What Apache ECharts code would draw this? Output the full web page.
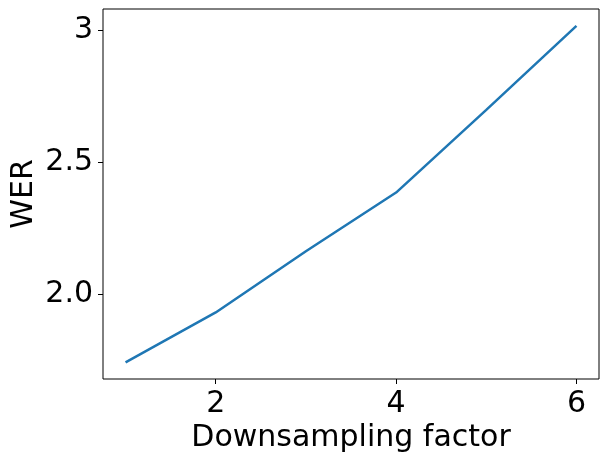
<!DOCTYPE html>
<html>
<head>
<meta charset="utf-8">
<title>WER vs downsampling factor</title>
<script src="https://cdn.jsdelivr.net/npm/echarts@6/dist/echarts.min.js"></script>
<style>
    html, body { margin: 0; padding: 0; background: #fff; }
    #chart { width: 608px; height: 462px; }
</style>
</head>
<body>
<div id="chart"></div>
<script>
// data
var factors = [1, 2, 3, 4, 5, 6];
var werValues = [1.741, 1.930, 2.162, 2.384, 2.697, 3.015];
var xTicks = [2, 4, 6];
var yTicks = [2.0, 2.5, 3];

var myChart = echarts.init(document.getElementById('chart'));
var font = 'DejaVu Sans';

var option = {
    animation: false,
    grid: {
        left: 103,
        right: 9,
        top: 9,
        bottom: 83,
        outerBoundsMode: 'none',
        containLabel: false,
        show: true,
        borderColor: '#000',
        borderWidth: 1,
        backgroundColor: 'transparent'
    },
    xAxis: {
        type: 'value',
        min: 0.75,
        max: 6.25,
        name: 'Downsampling factor',
        nameLocation: 'middle',
        nameGap: 44,
        nameMoveOverlap: false,
        nameTextStyle: { fontFamily: font, fontSize: 30, color: '#000' },
        axisLine: { show: false },
        axisTick: { show: true, customValues: xTicks, length: 5, lineStyle: { color: '#000' } },
        axisLabel: { customValues: xTicks, fontFamily: font, fontSize: 30, color: '#000', margin: 10 },
        splitLine: { show: false }
    },
    yAxis: {
        type: 'value',
        min: 1.678,
        max: 3.079,
        name: 'WER',
        nameLocation: 'middle',
        nameGap: 64,
        nameMoveOverlap: false,
        nameTextStyle: { fontFamily: font, fontSize: 30, color: '#000' },
        axisLine: { show: false },
        axisTick: { show: true, customValues: yTicks, length: 5, lineStyle: { color: '#000' } },
        axisLabel: {
            customValues: yTicks,
            fontFamily: font,
            fontSize: 30,
            color: '#000',
            margin: 10,
            formatter: function (v) {
                return v === 3 ? '3' : v.toFixed(1);
            }
        },
        splitLine: { show: false }
    },
    series: [
        {
            type: 'line',
            data: factors.map(function (f, i) { return [f, werValues[i]]; }),
            showSymbol: false,
            lineStyle: { color: '#1f77b4', width: 2.5 },
            itemStyle: { color: '#1f77b4' }
        }
    ]
};

myChart.setOption(option);
</script>
</body>
</html>
